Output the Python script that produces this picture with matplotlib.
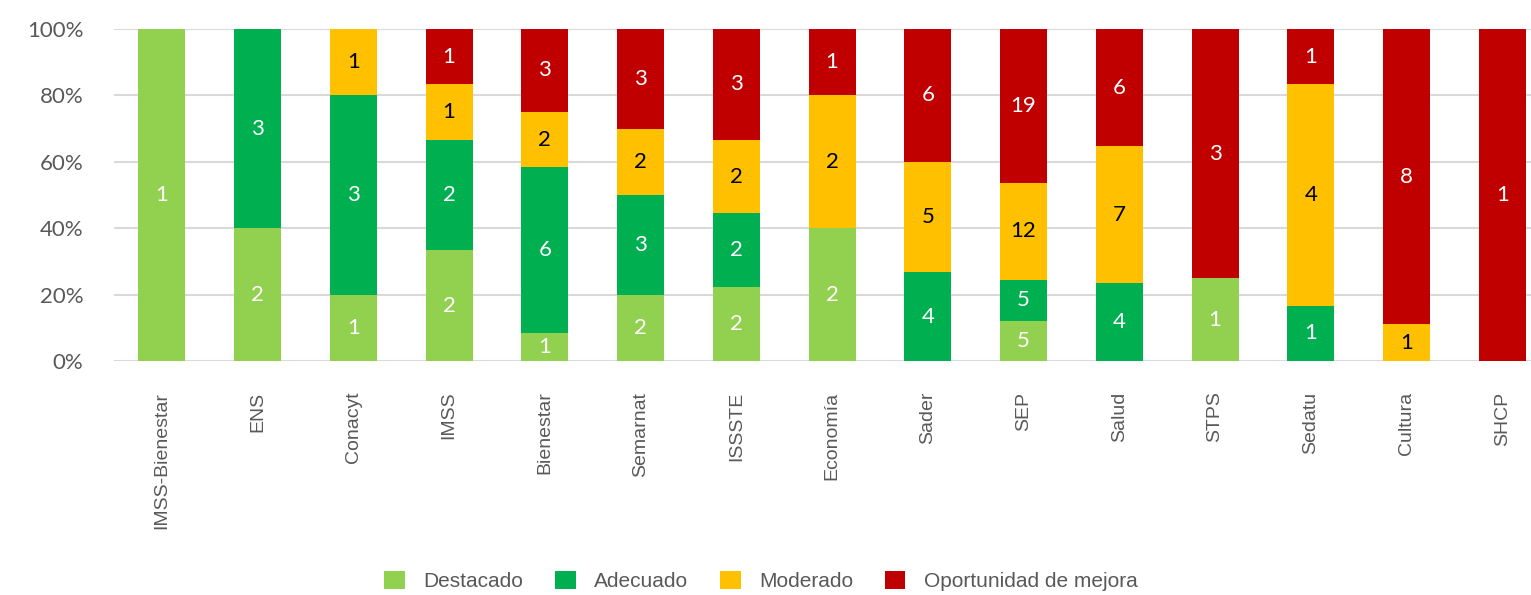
import numpy as np
import matplotlib.pyplot as plt
from matplotlib.ticker import PercentFormatter

categorias = ['IMSS-Bienestar', 'ENS', 'Conacyt', 'IMSS', 'Bienestar', 'Semarnat',
              'ISSSTE', 'Economía', 'Sader', 'SEP', 'Salud', 'STPS', 'Sedatu',
              'Cultura', 'SHCP']
destacado = [1, 2, 1, 2, 1, 2, 2, 2, 0, 5, 0, 1, 0, 0, 0]
adecuado = [0, 3, 3, 2, 6, 3, 2, 0, 4, 5, 4, 0, 1, 0, 0]
moderado = [0, 0, 1, 1, 2, 2, 2, 2, 5, 12, 7, 0, 4, 1, 0]
oportunidad = [0, 0, 0, 1, 3, 3, 3, 1, 6, 19, 6, 3, 1, 8, 1]

series = [('Destacado', destacado, '#92D050', 'white'),
          ('Adecuado', adecuado, '#00B050', 'white'),
          ('Moderado', moderado, '#FFC000', 'black'),
          ('Oportunidad de mejora', oportunidad, '#C00000', 'white')]

W, H = 1531, 595
fig = plt.figure(figsize=(W / 100, H / 100), dpi=100)
ax = fig.add_axes([114 / W, (H - 361) / H, (1531 - 114) / W, (361 - 29) / H])

x = np.arange(len(categorias))
totales = np.sum([s[1] for s in series], axis=0)
base = np.zeros(len(categorias))

for nombre, vals, color, tcolor in series:
    v = np.array(vals, dtype=float)
    pct = v / totales * 100
    ax.bar(x, pct, bottom=base, width=0.49, color=color, label=nombre, zorder=3)
    for i in range(len(x)):
        if v[i] > 0:
            ax.text(x[i], base[i] + pct[i] / 2, str(int(v[i])), ha='center', va='center',
                    color=tcolor, fontsize=16, family=['Lato', 'DejaVu Sans'], zorder=4)
    base += pct

ax.set_xlim(-0.5, 14.3)
ax.set_ylim(0, 100)
ax.set_yticks(np.arange(0, 101, 20))
ax.yaxis.set_major_formatter(PercentFormatter(decimals=0))
ax.grid(axis='y', color='#D9D9D9', linewidth=1.5, zorder=0)
for s in ax.spines.values():
    s.set_visible(False)
ax.tick_params(axis='both', length=0)
ax.tick_params(axis='y', pad=22, labelsize=16, labelcolor='#595959')
for lab in ax.get_yticklabels():
    lab.set_family(['Lato', 'DejaVu Sans'])

ax.set_xticks(x)
ax.set_xticklabels(categorias, rotation=90, fontsize=14, color='#595959',
                   family=['Liberation Sans', 'DejaVu Sans'])
ax.tick_params(axis='x', pad=22)

leg = fig.legend(loc='center', bbox_to_anchor=(761 / W, (H - 581) / H), ncol=4, frameon=False,
                 handlelength=1.0, handleheight=1.0, handletextpad=0.9, columnspacing=1.5,
                 prop={'family': ['Liberation Sans', 'DejaVu Sans'], 'size': 15})
for t in leg.get_texts():
    t.set_color('#595959')

fig.savefig('out.png', dpi=100)
